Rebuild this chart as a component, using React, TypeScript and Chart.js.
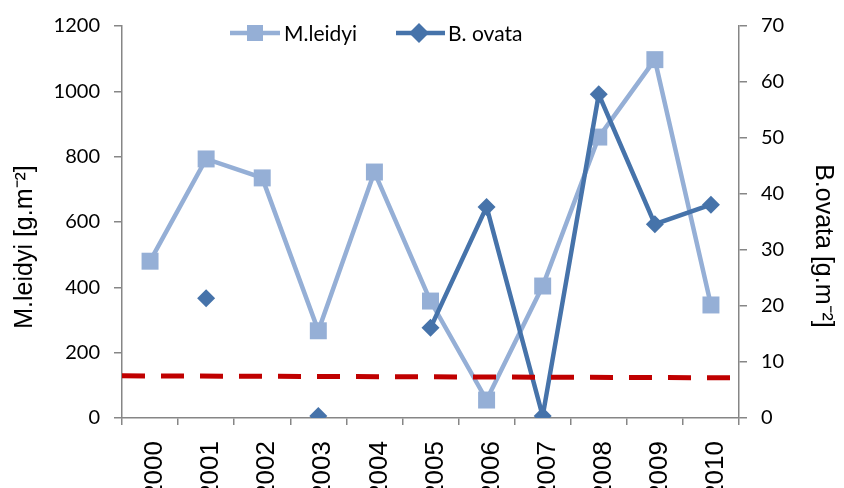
import React, { useEffect, useRef } from 'react';
import { Chart, registerables } from 'chart.js';

Chart.register(...registerables);

const years = ['2000', '2001', '2002', '2003', '2004', '2005', '2006', '2007', '2008', '2009', '2010'];
const mLeidyi = [480, 793, 735, 267, 753, 358, 55, 404, 860, 1097, 346];
const bOvata = [null, 21.4, null, 0.35, null, 16.1, 37.7, 0.35, 57.8, 34.6, 38.1];
const thresholdLine = [129, 123];
const leftAxisMax = 1200;
const leftAxisStep = 200;
const rightAxisMax = 70;
const rightAxisStep = 10;

const LIGHT = '#95AFD6';
const DARK = '#4673AA';
const RED = '#C00000';
const AXIS = '#868686';
const TICK_FONT = { family: 'Lato, "Open Sans", sans-serif', size: 20 };
const TITLE_FONT = '25px "Liberation Sans", Arial, sans-serif';

const overlayPlugin = {
  id: 'overlay',
  afterDraw(chart: any) {
    const ctx = chart.ctx as CanvasRenderingContext2D;
    ctx.save();
    // axis titles
    ctx.fillStyle = '#000';
    ctx.font = TITLE_FONT;
    ctx.textAlign = 'center';
    ctx.textBaseline = 'middle';
    ctx.save();
    ctx.translate(25, 247);
    ctx.rotate(-Math.PI / 2);
    ctx.fillText('M.leidyi [g.m\u207B\u00B2]', 0, 0);
    ctx.restore();
    ctx.save();
    ctx.translate(823, 246);
    ctx.rotate(Math.PI / 2);
    ctx.fillText('B.ovata [g.m\u207B\u00B2]', 0, 0);
    ctx.restore();

    // legend
    const ly = 33;
    ctx.lineWidth = 4.5;
    ctx.lineCap = 'butt';
    ctx.strokeStyle = LIGHT;
    ctx.beginPath();
    ctx.moveTo(230, ly);
    ctx.lineTo(280, ly);
    ctx.stroke();
    ctx.fillStyle = LIGHT;
    ctx.fillRect(255 - 8, ly - 8, 16, 16);
    ctx.strokeStyle = DARK;
    ctx.beginPath();
    ctx.moveTo(396, ly);
    ctx.lineTo(445, ly);
    ctx.stroke();
    ctx.fillStyle = DARK;
    ctx.beginPath();
    ctx.moveTo(419, ly - 10);
    ctx.lineTo(429, ly);
    ctx.lineTo(419, ly + 10);
    ctx.lineTo(409, ly);
    ctx.closePath();
    ctx.fill();
    ctx.fillStyle = '#000';
    ctx.font = '21px Lato, "Open Sans", sans-serif';
    ctx.textAlign = 'left';
    ctx.fillText('M.leidyi', 284, ly + 1);
    ctx.fillText('B. ovata', 448, ly + 1);
    ctx.restore();
  },
};

export default function App() {
  const ref = useRef<HTMLCanvasElement | null>(null);
  useEffect(() => {
    if (!ref.current) return;
    const chart = new Chart(ref.current, {
      type: 'line',
      data: {
        labels: years,
        datasets: [
          {
            label: 'threshold',
            data: [
              { x: 0, y: thresholdLine[0] },
              { x: 1, y: thresholdLine[1] },
            ],
            xAxisID: 'xr',
            yAxisID: 'y',
            borderColor: RED,
            borderWidth: 5,
            borderDash: [23, 16],
            pointRadius: 0,
            order: 0,
          } as any,
          {
            label: 'B. ovata',
            data: bOvata,
            yAxisID: 'y1',
            xAxisID: 'x',
            borderColor: DARK,
            backgroundColor: DARK,
            borderWidth: 4.5,
            pointStyle: 'rectRot',
            pointRadius: 9,
            pointBorderWidth: 0,
            spanGaps: false,
            order: 1,
          },
          {
            label: 'M.leidyi',
            data: mLeidyi,
            yAxisID: 'y',
            xAxisID: 'x',
            borderColor: LIGHT,
            backgroundColor: LIGHT,
            borderWidth: 4.5,
            pointStyle: 'rect',
            pointRadius: 12,
            pointBorderWidth: 0,
            order: 2,
          },
        ],
      },
      options: {
        responsive: false,
        animation: false,
        devicePixelRatio: 1,
        layout: { padding: { top: 22, bottom: 0, left: 0, right: 0 } },
        plugins: { legend: { display: false }, tooltip: { enabled: false } },
        scales: {
          x: {
            type: 'category',
            offset: true,
            position: 'bottom',
            grid: { display: true, drawOnChartArea: false, drawTicks: true, tickLength: 7, offset: true, color: AXIS, lineWidth: 1.5 },
            border: { display: true, color: AXIS, width: 1.5 },
            ticks: {
              minRotation: 90,
              maxRotation: 90,
              padding: 16,
              labelOffset: 5,
              color: '#000',
              font: { family: '"Liberation Sans", Arial, sans-serif', size: 26 },
            },
            afterFit: (s: any) => { s.height = 70; },
          },
          xr: {
            type: 'linear',
            display: false,
            min: 0,
            max: 1,
          },
          y: {
            position: 'left',
            min: 0,
            max: leftAxisMax,
            ticks: { stepSize: leftAxisStep, padding: 14, color: '#000', font: TICK_FONT, callback: (v: any) => String(v) },
            grid: { drawOnChartArea: false, drawTicks: true, tickLength: 8, color: AXIS, lineWidth: 1.5 },
            border: { display: true, color: AXIS, width: 1.5 },
            afterFit: (s: any) => { s.width = 122; },
          },
          y1: {
            position: 'right',
            min: 0,
            max: rightAxisMax,
            ticks: { stepSize: rightAxisStep, padding: 14, color: '#000', font: TICK_FONT, callback: (v: any) => String(v) },
            grid: { drawOnChartArea: false, drawTicks: true, tickLength: 8, color: AXIS, lineWidth: 1.5 },
            border: { display: true, color: AXIS, width: 1.5 },
            afterFit: (s: any) => { s.width = 105; },
          },
        },
      },
      plugins: [overlayPlugin],
    } as any);
    return () => chart.destroy();
  }, []);
  return (
    <div style={{ position: 'absolute', left: 0, top: 0, width: 844, height: 488, background: '#fff' }}>
      <canvas ref={ref} width={844} height={488} style={{ width: 844, height: 488, display: 'block' }} />
    </div>
  );
}
